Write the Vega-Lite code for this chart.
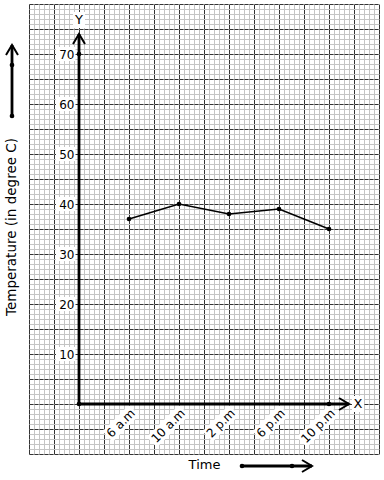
{
  "$schema": "https://vega.github.io/schema/vega-lite/v6.json",
  "width": 350,
  "height": 450,
  "autosize": {"type": "none"},
  "padding": {"left": 29, "top": 4, "right": 5, "bottom": 26},
  "background": "white",
  "config": {
    "view": {"stroke": null},
    "font": "DejaVu Sans",
    "axis": {"labelFont": "DejaVu Sans", "labelColor": "black"}
  },
  "datasets": {
    "main": [
      {"t": 1, "temp": 37},
      {"t": 2, "temp": 40},
      {"t": 3, "temp": 38},
      {"t": 4, "temp": 39},
      {"t": 5, "temp": 35}
    ],
    "yticks": [
      {"v": 10}, {"v": 20}, {"v": 30}, {"v": 40}, {"v": 50}, {"v": 60}, {"v": 70}
    ],
    "segs": [
      {"x": 0, "y": 0, "x2": 0, "y2": 74},
      {"x": 0, "y": 0, "x2": 5.4, "y2": 0},
      {"x": -1.34, "y": 57.6, "x2": -1.34, "y2": 71.8},
      {"x": 3.26, "y": -12.4, "x2": 4.66, "y2": -12.4}
    ],
    "dots": [
      {"x": 0, "y": 0},
      {"x": 0, "y": 70},
      {"x": 5, "y": 0},
      {"x": -1.34, "y": 57.6},
      {"x": -1.34, "y": 67.8},
      {"x": 3.26, "y": -12.4},
      {"x": 4.26, "y": -12.4}
    ],
    "heads": [
      {"x": 0, "y": 74, "dir": "up"},
      {"x": 5.4, "y": 0, "dir": "right"},
      {"x": -1.34, "y": 71.8, "dir": "up"},
      {"x": 4.66, "y": -12.4, "dir": "right"}
    ],
    "letters": [
      {"x": 0, "y": 76.8, "label": "Y"},
      {"x": 5.58, "y": 0, "label": "X"},
      {"x": 2.51, "y": -12.2, "label": "Time"}
    ],
    "ytitle": [
      {"x": -1.34, "y": 35.4, "label": "Temperature (in degree C)"}
    ]
  },
  "layer": [
    {
      "data": {"name": "main"},
      "mark": {"type": "point", "opacity": 0},
      "encoding": {
        "x": {"field": "t", "type": "quantitative",
          "scale": {"domain": [-1, 6], "nice": false, "zero": false},
          "axis": {"orient": "bottom", "grid": true, "gridColor": "#c4c4c4", "gridWidth": 1, "gridOpacity": 1, "tickCount": 70, "labels": false, "ticks": false, "domain": false, "title": null}},
        "y": {"field": "temp", "type": "quantitative",
          "scale": {"domain": [-10, 80], "nice": false, "zero": false},
          "axis": {"orient": "left", "grid": true, "gridColor": "#c4c4c4", "gridWidth": 1, "gridOpacity": 1, "tickCount": 90, "labels": false, "ticks": false, "domain": false, "title": null}}
      }
    },
    {
      "data": {"name": "main"},
      "mark": {"type": "point", "opacity": 0},
      "encoding": {
        "x": {"field": "t", "type": "quantitative",
          "scale": {"domain": [-1, 6], "nice": false, "zero": false},
          "axis": {"orient": "bottom", "grid": true, "gridColor": "#333333", "gridWidth": 1, "gridOpacity": 1, "tickCount": 14, "labels": false, "ticks": false, "domain": false, "title": null}},
        "y": {"field": "temp", "type": "quantitative",
          "scale": {"domain": [-10, 80], "nice": false, "zero": false},
          "axis": {"orient": "left", "grid": true, "gridColor": "#333333", "gridWidth": 1, "gridOpacity": 1, "gridDash": [4, 1], "tickCount": 18, "labels": false, "ticks": false, "domain": false, "title": null}}
      }
    },
    {
      "data": {"name": "main"},
      "mark": {"type": "point", "filled": true, "color": "white", "size": 4, "opacity": 1, "strokeWidth": 0},
      "encoding": {
        "x": {"field": "t", "type": "quantitative", "axis": null},
        "y": {"datum": 0, "type": "quantitative", "axis": null},
        "shape": {"field": "t", "type": "nominal", "legend": null,
          "scale": {"domain": [1, 2, 3, 4, 5],
            "range": [
              "M0,0.9L-26.5,27.4L-16.3,37.7L10.3,11.1Z",
              "M0,0.9L-32.2,33.1L-21.9,43.3L10.3,11.1Z",
              "M0,0.9L-26.5,27.4L-16.3,37.7L10.3,11.1Z",
              "M0,0.9L-26.5,27.4L-16.3,37.7L10.3,11.1Z",
              "M0,0.9L-32.2,33.1L-21.9,43.3L10.3,11.1Z"
            ]}}
      }
    },
    {
      "data": {"name": "yticks"},
      "mark": {"type": "point", "filled": true, "color": "white", "size": 4, "opacity": 1, "strokeWidth": 0,
        "shape": "M-23,-7L-3.5,-7L-3.5,7L-23,7Z"},
      "encoding": {
        "x": {"datum": 0, "type": "quantitative", "axis": null},
        "y": {"field": "v", "type": "quantitative", "axis": null}
      }
    },
    {
      "data": {"name": "letters"},
      "mark": {"type": "point", "filled": true, "color": "white", "size": 4, "opacity": 1, "strokeWidth": 0,
        "shape": "M-6,-8L6,-8L6,8L-6,8Z"},
      "encoding": {
        "x": {"field": "x", "type": "quantitative", "axis": null},
        "y": {"field": "y", "type": "quantitative", "axis": null}
      }
    },
    {
      "data": {"name": "main"},
      "mark": {"type": "point", "opacity": 0},
      "encoding": {
        "x": {"field": "t", "type": "quantitative",
          "scale": {"domain": [-1, 6], "nice": false, "zero": false},
          "axis": {"orient": "bottom", "offset": -50, "zindex": 1, "grid": false, "values": [1, 2, 3, 4, 5],
            "labelExpr": "['', '6 a.m', '10 a.m', '2 p.m', '6 p.m', '10 p.m'][datum.value]",
            "labelAngle": -45, "labelFontSize": 12, "labelPadding": 3, "ticks": false, "domain": false, "title": null}},
        "y": {"field": "temp", "type": "quantitative",
          "scale": {"domain": [-10, 80], "nice": false, "zero": false},
          "axis": {"orient": "left", "offset": -50, "zindex": 1, "grid": false, "values": [10, 20, 30, 40, 50, 60, 70],
            "labelFontSize": 12, "labelPadding": 5, "ticks": false, "domain": false, "title": null}}
      }
    },
    {
      "data": {"name": "segs"},
      "mark": {"type": "rule", "color": "black", "strokeWidth": 2.8},
      "encoding": {
        "x": {"field": "x", "type": "quantitative", "axis": null},
        "y": {"field": "y", "type": "quantitative", "axis": null},
        "x2": {"field": "x2"},
        "y2": {"field": "y2"}
      }
    },
    {
      "data": {"name": "main"},
      "mark": {"type": "line", "color": "black", "strokeWidth": 1.6,
        "point": {"filled": true, "color": "black", "size": 22}},
      "encoding": {
        "x": {"field": "t", "type": "quantitative", "axis": null},
        "y": {"field": "temp", "type": "quantitative", "axis": null}
      }
    },
    {
      "data": {"name": "dots"},
      "mark": {"type": "point", "filled": true, "color": "black", "size": 22, "opacity": 1},
      "encoding": {
        "x": {"field": "x", "type": "quantitative", "axis": null},
        "y": {"field": "y", "type": "quantitative", "axis": null}
      }
    },
    {
      "data": {"name": "heads"},
      "mark": {"type": "point", "filled": false, "color": "black", "strokeWidth": 2, "size": 400, "opacity": 1},
      "encoding": {
        "x": {"field": "x", "type": "quantitative", "axis": null},
        "y": {"field": "y", "type": "quantitative", "axis": null},
        "shape": {"field": "dir", "type": "nominal", "legend": null,
          "scale": {"domain": ["up", "right"], "range": ["M-0.6,1L0,0L0.6,1", "M-1,-0.6L0,0L-1,0.6"]}}
      }
    },
    {
      "data": {"name": "letters"},
      "mark": {"type": "text", "fontSize": 13, "color": "black", "align": "center", "baseline": "middle"},
      "encoding": {
        "x": {"field": "x", "type": "quantitative", "axis": null},
        "y": {"field": "y", "type": "quantitative", "axis": null},
        "text": {"field": "label"}
      }
    },
    {
      "data": {"name": "ytitle"},
      "mark": {"type": "text", "fontSize": 13.5, "color": "black", "align": "center", "baseline": "middle", "angle": 270},
      "encoding": {
        "x": {"field": "x", "type": "quantitative", "axis": null},
        "y": {"field": "y", "type": "quantitative", "axis": null},
        "text": {"field": "label"}
      }
    }
  ],
  "resolve": {
    "axis": {"x": "independent", "y": "independent"},
    "scale": {"shape": "independent"}
  }
}
